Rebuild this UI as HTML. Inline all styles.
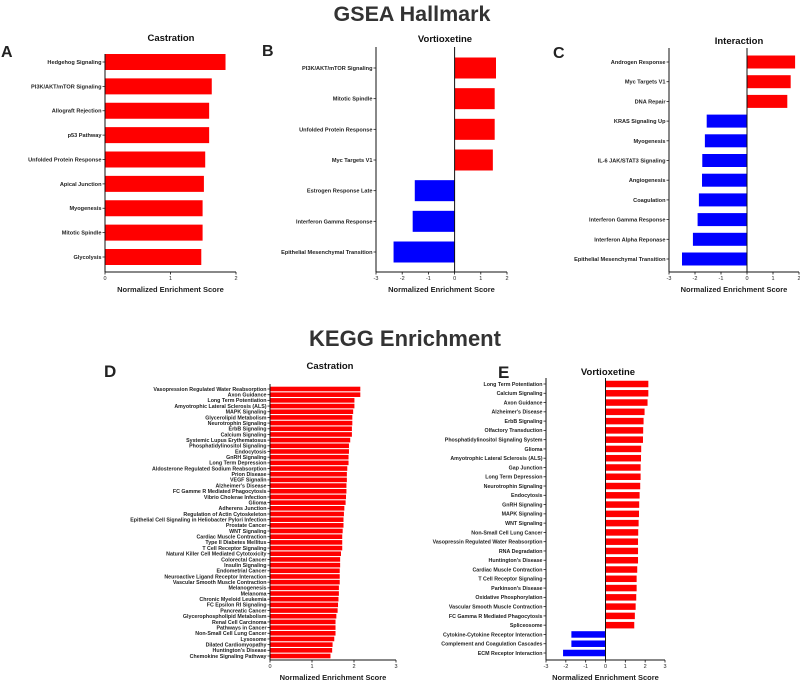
<!DOCTYPE html>
<html><head><meta charset="utf-8"><style>
html,body{margin:0;padding:0;background:#fff}
svg{display:block;font-family:"Liberation Sans",Arial,sans-serif}
</style></head><body>
<svg id="fig" width="800" height="680" viewBox="0 0 800 680">
<text x="412" y="21" text-anchor="middle" font-size="21.5" font-weight="bold" fill="#333">GSEA Hallmark</text>
<text x="405" y="346" text-anchor="middle" font-size="22" font-weight="bold" fill="#333">KEGG Enrichment</text>
<text x="1" y="57" font-size="16" font-weight="bold" fill="#222">A</text>
<text x="262" y="56" font-size="16" font-weight="bold" fill="#222">B</text>
<text x="553" y="58" font-size="16" font-weight="bold" fill="#222">C</text>
<text x="104" y="377" font-size="17" font-weight="bold" fill="#222">D</text>
<text x="498" y="378" font-size="17" font-weight="bold" fill="#222">E</text>
</svg>
<script>
const NS='http://www.w3.org/2000/svg';
const svg=document.getElementById('fig');

const aCats=["Hedgehog Signaling","PI3K/AKT/mTOR Signaling","Allograft Rejection","p53 Pathway","Unfolded Protein Response","Apical Junction","Myogenesis","Mitotic Spindle","Glycolysis"];
const aVals=[1.84,1.63,1.59,1.59,1.53,1.51,1.49,1.49,1.47];
const aTicks=[0,1,2];

const bCats=["PI3K/AKT/mTOR Signaling","Mitotic Spindle","Unfolded Protein Response","Myc Targets V1","Estrogen Response Late","Interferon Gamma Response","Epithelial Mesenchymal Transition"];
const bVals=[1.58,1.53,1.53,1.46,-1.52,-1.6,-2.33];
const bTicks=[-3,-2,-1,0,1,2];

const cCats=["Androgen Response","Myc Targets V1","DNA Repair","KRAS Signaling Up","Myogenesis","IL-6 JAK/STAT3 Signaling","Angiogenesis","Coagulation","Interferon Gamma Response","Interferon Alpha Reponase","Epithelial Mesenchymal Transition"];
const cVals=[1.85,1.68,1.55,-1.55,-1.62,-1.72,-1.73,-1.85,-1.9,-2.08,-2.5];
const cTicks=[-3,-2,-1,0,1,2];

const dCats=["Vasopression Regulated Water Reabsorption","Axon Guidance","Long Term Potentiation","Amyotrophic Lateral Sclerosis (ALS)","MAPK Signaling","Glycerolipid Metabolism","Neurotrophin Signaling","ErbB Signaling","Calcium Signaling","Systemic Lupus Erythematosus","Phosphatidylinositol Signaling","Endocytosis","GnRH Signaling","Long Term Depression","Aldosterone Regulated Sodium Reabsorption","Prion Disease","VEGF Signalin","Alzheimer's Disease","FC Gamme R Mediated Phagocytosis","Vibrio Cholerae Infection","Glioma","Adherens Junction","Regulation of Actin Cytoskeleton","Epithelial Cell Signaling in Heliobacter Pylori Infection","Prostate Cancer","WNT Signaling","Cardiac Muscle Contraction","Type II Diabetes Mellitus","T Cell Receptor Signaling","Natural Killer Cell Mediated Cytotoxicity","Colorectal Cancer","Insulin Signaling","Endometrial Cancer","Neuroactive Ligand Receptor Interaction","Vascular Smooth Muscle Contraction","Melanogenesis","Melanoma","Chronic Myeloid Leukemia","FC Epsilon RI Signaling","Pancreatic Cancer","Glycerophospholipid Metabolism","Renal Cell Carcinoma","Pathways in Cancer","Non-Small Cell Lung Cancer","Lysosome","Dilated Cardiomyopathy","Huntington's Disease","Chemokine Signaling Pathway"];
const dVals=[2.15,2.15,2.01,2.01,1.98,1.96,1.96,1.95,1.95,1.91,1.88,1.88,1.87,1.87,1.84,1.83,1.83,1.82,1.82,1.81,1.80,1.77,1.76,1.75,1.75,1.73,1.72,1.72,1.72,1.69,1.67,1.67,1.66,1.66,1.66,1.64,1.64,1.63,1.62,1.61,1.58,1.56,1.56,1.56,1.53,1.49,1.48,1.44];
const dTicks=[0,1,2,3];

const eCats=["Long Term Potentiation","Calcium Signaling","Axon Guidance","Alzheimer's Disease","ErbB Signaling","Olfactory Transduction","Phosphatidylinositol Signaling System","Glioma","Amyotrophic Lateral Sclerosis (ALS)","Gap Junction","Long Term Depression","Neurotrophin Signaling","Endocytosis","GnRH Signaling","MAPK Signaling","WNT Signaling","Non-Small Cell Lung Cancer","Vasopressin Regulated Water Reabsorption","RNA Degradation","Huntington's Disease","Cardiac Muscle Contraction","T Cell Receptor Signaling","Parkinson's Disease","Oxidative Phosphorylation","Vascular Smooth Muscle Contraction","FC Gamma R Mediated Phagocytosis","Spliceosome","Cytokine-Cytokine Receptor Interaction","Complement and Coagulation Cascades","ECM Receptor Interaction"];
const eVals=[2.16,2.16,2.12,1.97,1.92,1.9,1.89,1.8,1.79,1.77,1.77,1.75,1.72,1.70,1.69,1.67,1.65,1.64,1.64,1.64,1.6,1.57,1.57,1.55,1.52,1.48,1.45,-1.72,-1.72,-2.14];
const eTicks=[-3,-2,-1,0,1,2,3];

function el(tag,attrs,name,inter){const e=document.createElementNS(NS,tag);for(const k in attrs)e.setAttribute(k,attrs[k]);


return e;}

function panel(id,cats,vals,ticks,cfg){
  const g=el('g',{},id+'-chart');svg.appendChild(g);
  const t0=ticks[0],t1=ticks[ticks.length-1];
  const x=v=>cfg.x0+(v-t0)/(t1-t0)*(cfg.x1-cfg.x0);
  const n=cats.length;
  const y=i=>n===1?cfg.yFirst:cfg.yFirst+i*(cfg.yLast-cfg.yFirst)/(n-1);
  for(let i=0;i<n;i++){
    const v=vals[i];const xa=x(0),xb=x(v);
    const r=el('rect',{x:Math.min(xa,xb),y:y(i)-cfg.bh/2,width:Math.abs(xb-xa),height:cfg.bh,fill:v>=0?'#ff0000':'#0000ff'},id+'-bar');
    g.appendChild(r);
    const tk=el('line',{x1:cfg.x0-2.5,x2:cfg.x0,y1:y(i),y2:y(i),stroke:'#222','stroke-width':0.8},id+'-y-tick');g.appendChild(tk);
    const lb=el('text',{x:cfg.x0-3.5,y:y(i)+cfg.fs*0.35,'text-anchor':'end','font-size':cfg.fs,'font-weight':'bold',fill:'#222'},id+'-category-label');
    lb.textContent=cats[i];g.appendChild(lb);
  }
  if(t0<0){g.appendChild(el('line',{x1:x(0),x2:x(0),y1:cfg.yTop,y2:cfg.yBot,stroke:'#111','stroke-width':1},id+'-zero-line'));}
  g.appendChild(el('line',{x1:cfg.x0,x2:cfg.x0,y1:cfg.yTop,y2:cfg.yBot,stroke:'#111','stroke-width':1},id+'-y-axis'));
  g.appendChild(el('line',{x1:cfg.x0,x2:cfg.x1,y1:cfg.yBot,y2:cfg.yBot,stroke:'#111','stroke-width':1},id+'-x-axis'));
  ticks.forEach(t=>{
    g.appendChild(el('line',{x1:x(t),x2:x(t),y1:cfg.yBot,y2:cfg.yBot+2.5,stroke:'#111','stroke-width':0.8},id+'-x-tick'));
    const tl=el('text',{x:x(t),y:cfg.yBot+8,'text-anchor':'middle','font-size':5.5,fill:'#222'},id+'-x-tick-label');
    tl.textContent=t;g.appendChild(tl);
  });
  const at=el('text',{x:(cfg.x0+cfg.x1)/2,y:cfg.yBot+20,'text-anchor':'middle','font-size':7.5,'font-weight':'bold',fill:'#222'},id+'-x-axis-title');
  at.textContent='Normalized Enrichment Score';g.appendChild(at);
  const st=el('text',{x:cfg.tx,y:cfg.ty,'text-anchor':'middle','font-size':9.5,'font-weight':'bold',fill:'#111'},id+'-subtitle');
  st.textContent=cfg.title;g.appendChild(st);
}

panel('castration-hallmark',aCats,aVals,aTicks,{x0:105,x1:236,yTop:54,yBot:272,yFirst:62,yLast:257,bh:16,fs:5.6,tx:171,ty:41,title:'Castration'});
panel('vortioxetine-hallmark',bCats,bVals,bTicks,{x0:376,x1:507,yTop:47,yBot:272,yFirst:68,yLast:252,bh:21,fs:5.6,tx:445,ty:42,title:'Vortioxetine'});
panel('interaction-hallmark',cCats,cVals,cTicks,{x0:669,x1:799,yTop:48,yBot:272,yFirst:62,yLast:259,bh:13,fs:5.6,tx:739,ty:44,title:'Interaction'});
panel('castration-kegg',dCats,dVals,dTicks,{x0:270,x1:396,yTop:384,yBot:660,yFirst:389,yLast:656,bh:4.6,fs:5.3,tx:330,ty:369,title:'Castration'});
panel('vortioxetine-kegg',eCats,eVals,eTicks,{x0:546,x1:665,yTop:378,yBot:660,yFirst:384,yLast:653,bh:6.5,fs:5.3,tx:608,ty:375,title:'Vortioxetine'});
</script>
</body></html>
